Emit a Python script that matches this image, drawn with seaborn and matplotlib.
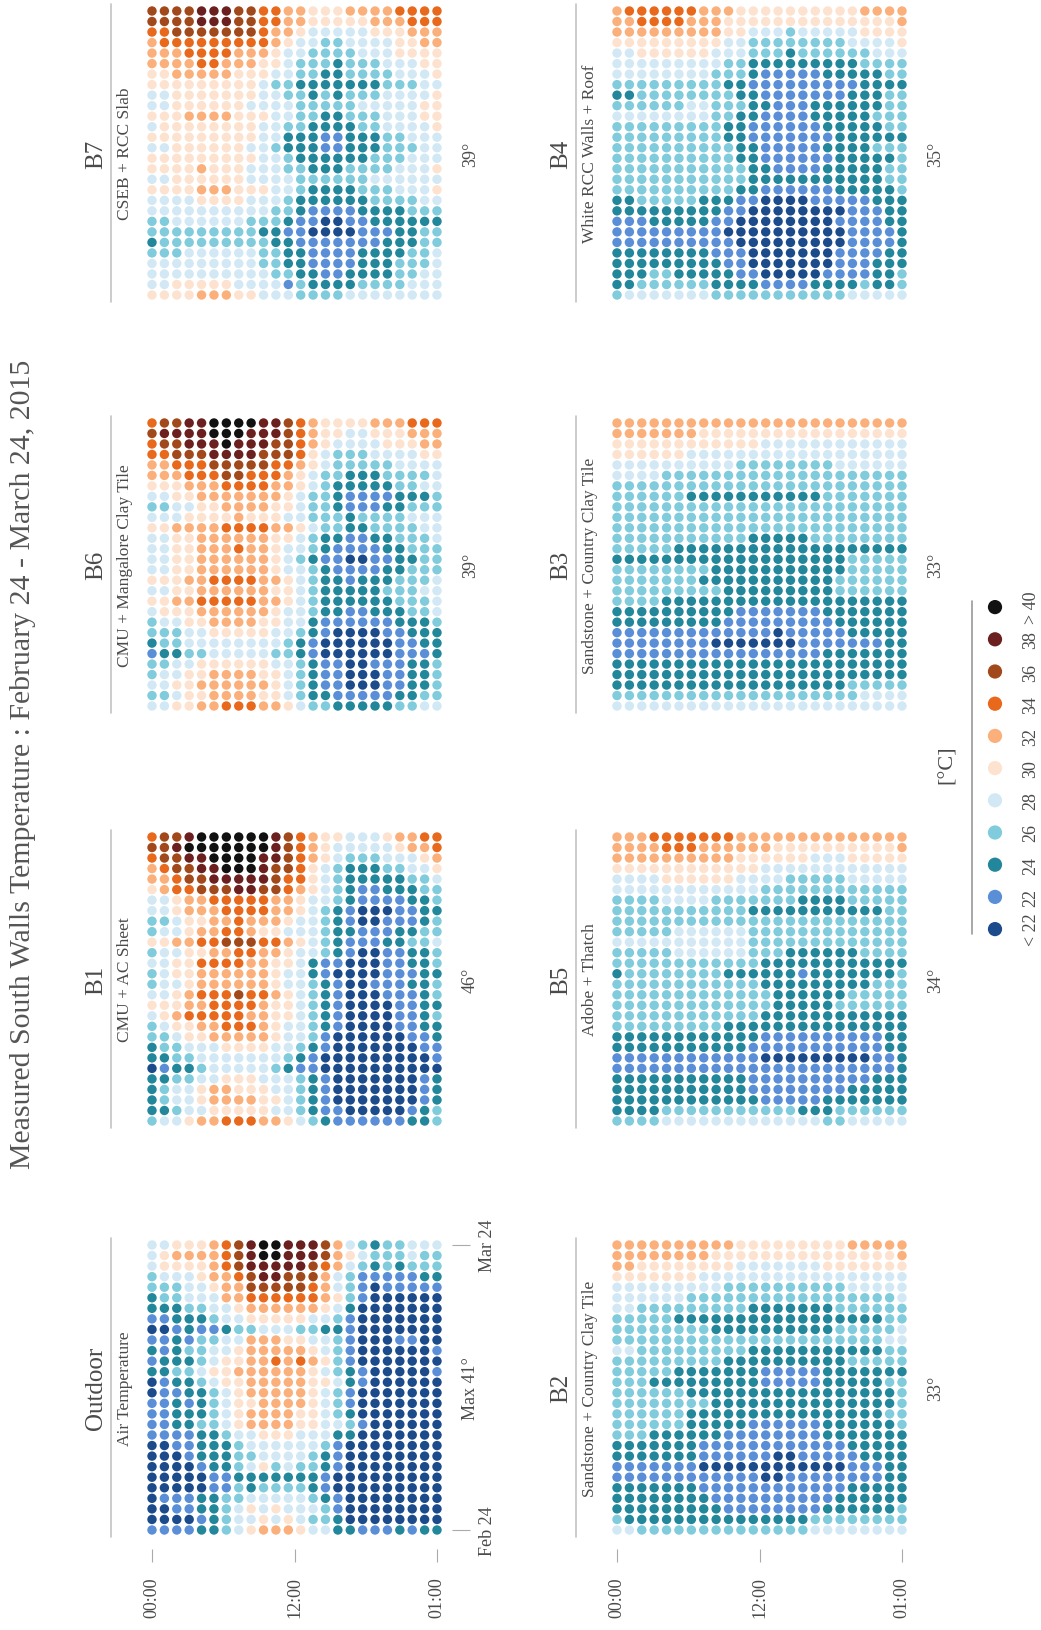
import pandas as pd
import matplotlib
matplotlib.use('Agg')
import matplotlib.pyplot as plt
from matplotlib.lines import Line2D
import seaborn as sns

# --- Figure size (pixels at 100 dpi) ---
W, H = 1041, 1631
DPI = 100

# --- Data ---
TITLE = 'Measured South Walls Temperature : February 24 - March 24, 2015'
HOUR_TICKS = [0, 11.5, 23]
HOUR_LABELS = ['00:00', '12:00', '01:00']
DAY_TICKS = [0, 27]
DAY_LABELS = ['Feb 24', 'Mar 24']

# one character per hour, code -> temperature class
CAT_CODES = ['0', '1', '2', '3', '4', '5', '6', '7', '8', '9', 'x']
CAT_LABELS = ['< 22', '22', '24', '26', '28', '30', '32', '34', '36', '38', '> 40']
CAT_COLORS = ['#1c4b8c', '#5a8fd8', '#22879a', '#80cbdc', '#d2e9f5', '#fde3cf',
              '#fbb07c', '#e8681c', '#a2491c', '#6b1f1f', '#111111']

# rows run from Mar 24 (first) down to Feb 24 (last), 24 hours per row
outdoor = [
    "445556 789xx9 998643 233444", "456666 789xx9 998654 333433",
    "455556 789999 987643 232333", "344456 678998 886431 111122",
    "333445 668888 876431 011111", "233444 667777 776531 000000",
    "222334 456666 665420 000000", "112223 445555 544310 000000",
    "001211 233444 332210 000000", "112133 446665 544310 001100",
    "212334 456666 654310 000001", "122234 556676 765310 000000",
    "223345 566666 654321 000001", "012234 556666 655421 000000",
    "011223 456666 654310 000000", "112123 455666 654310 000000",
    "112223 456666 554320 000000", "112233 456666 554431 000000",
    "111122 344555 444220 000000", "001122 234444 443100 000000",
    "000122 233444 432100 000000", "000012 234534 332100 000000",
    "000001 122222 221000 000000", "000001 132333 321000 000000",
    "011122 334444 432100 000000", "001122 345454 443100 000000",
    "000012 344545 433200 000000", "111122 345666 544221 112122",
]
b1 = [
    "7889xx xxxx98 765544 456677", "889xxx xxxx98 765444 445667",
    "78899x xxx998 765433 344456", "678899 xxx988 754322 233445",
    "667889 999987 754322 222334", "567788 899887 654321 122233",
    "445667 777766 544321 111223", "445666 777766 543210 001122",
    "334556 676665 443210 011123", "344566 776554 443221 112233",
    "556677 888776 543211 122334", "344556 677665 443210 011223",
    "445577 776655 421100 011223", "345566 666654 421000 011122",
    "344566 666654 432100 111223", "445677 787765 432100 011123",
    "555667 777655 432100 001122", "456777 776655 432100 001123",
    "345566 777654 432100 001122", "334556 666654 431000 000112",
    "233444 555544 321000 000011", "223344 444443 210000 000001",
    "012234 444432 110000 000000", "223344 555444 321000 000012",
    "234456 655544 321000 000012", "234456 666554 321000 000012",
    "223445 555544 321100 000123", "344566 777665 432111 111223",
]
b6 = [
    "78899x xxx998 765555 666777", "89999x xx9998 765544 555666",
    "788999 x99988 765444 455566", "778889 999888 754333 444455",
    "667778 888877 654333 334444", "666777 887776 543322 233334",
    "555666 777766 543222 223344", "445566 666665 433211 112223",
    "334455 666655 433211 122333", "444555 565554 433323 333444",
    "556666 777766 543322 333344", "445566 666655 432211 223334",
    "445566 676654 432111 122333", "445566 666654 321100 112233",
    "445566 666654 432111 122333", "555667 777665 432212 223334",
    "445566 666655 432222 233344", "556677 777665 432222 223334",
    "455566 666654 432211 222334", "344556 666554 421111 112223",
    "333445 555544 321000 011222", "233444 444443 210000 001122",
    "122334 444433 210000 001112", "334455 555544 321100 111223",
    "344556 666554 321100 011223", "445566 666654 321100 011223",
    "334556 666554 322111 112233", "445566 777665 433222 223344",
]
b7 = [
    "888899 988776 655566 667777", "888899 988776 655555 666777",
    "778888 888766 544444 555666", "677777 777765 443344 445566",
    "666777 766654 433334 445555", "666677 666554 333233 344455",
    "556666 655544 332233 334445", "555555 555433 222222 233344",
    "445555 555443 323233 344445", "445555 554444 333334 444455",
    "555666 655544 332233 344455", "455555 555443 322223 344445",
    "555555 555442 221122 233444", "445555 554432 221122 233344",
    "555555 555443 222222 333444", "555565 554443 322233 334445",
    "445555 554444 333333 444444", "555566 655544 322223 334445",
    "444455 554443 222222 333344", "444444 444433 211112 222333",
    "334444 443332 110011 222222", "333333 333221 100001 112233",
    "233333 333322 111111 122233", "333444 444332 211112 222334",
    "444444 444332 211112 223334", "444444 444433 221122 223344",
    "445555 544441 322223 333444", "555566 655444 333344 444444",
]
b2 = [
    "666666 666655 555555 566666", "666666 665555 555555 555556",
    "665555 555544 444445 555555", "555555 544444 444444 444444",
    "444444 444333 333333 344444", "444444 333333 333333 333334",
    "443333 333332 222222 333333", "333332 222222 222222 222233",
    "333333 332222 222222 333334", "333333 333333 333333 333344",
    "443333 333332 222222 222233", "333333 333222 222222 233333",
    "333332 222222 111112 222222", "333222 222222 111112 222233",
    "333333 222222 222222 222223", "333333 332222 222222 222223",
    "333333 222222 222222 222233", "333333 222221 111112 222223",
    "333222 222111 111112 222222", "222222 211111 111111 122222",
    "222222 211111 100111 112222", "111111 100000 000000 011122",
    "111111 111111 001111 111122", "222222 211111 111111 122222",
    "222222 221111 111111 222222", "222222 222111 111112 222223",
    "322222 222222 222233 333333", "443333 333333 333344 444444",
]
b5 = [
    "666777 777766 666666 666666", "666677 766666 655555 555556",
    "666666 666655 555544 455555", "555555 555555 444444 444444",
    "444455 555544 443333 344444", "444444 444444 333333 333333",
    "333344 443333 333222 233333", "333333 333332 222222 222233",
    "333333 333333 333333 333333", "333334 444443 333333 333333",
    "444444 444443 333333 333333", "333334 444443 332222 223333",
    "333333 333333 222222 222222", "233333 333222 222122 222223",
    "333333 333333 222222 222333", "333333 333333 322222 233333",
    "333333 333333 322222 333333", "333333 333333 222222 222222",
    "333333 333222 222222 222222", "222222 222222 111111 111122",
    "222222 222221 111111 111122", "111111 111111 000000 000112",
    "111111 111111 111111 111112", "222222 222221 111111 111222",
    "222222 222221 111111 122222", "222222 222222 111112 222222",
    "222233 333333 333222 333333", "333344 444444 444443 344444",
]
b3 = [
    "666666 666666 666666 666666", "666666 655555 555555 555555",
    "555555 555555 444444 444444", "555555 444444 444444 444444",
    "444444 444433 333333 444444", "444433 333333 333333 333333",
    "333333 333333 333333 333333", "333333 222222 222223 333333",
    "333333 333333 333333 333333", "333333 333333 333333 333333",
    "333333 333333 333333 333333", "333333 333332 222233 333333",
    "333332 222222 222222 222222", "222222 222222 222222 233333",
    "333333 332222 222222 233333", "333333 322222 222222 333333",
    "333333 333222 222222 333333", "333322 222222 222222 222222",
    "222222 222211 111112 222222", "222222 222111 111111 222222",
    "111111 111111 101111 122222", "111111 110000 000111 111122",
    "111111 111111 111112 222222", "222222 222222 222222 222222",
    "222222 222222 222222 222222", "222222 222222 222222 233333",
    "333333 333333 333333 334444", "444444 444444 444444 444444",
]
b4 = [
    "677777 766655 555555 556666", "667777 666555 555555 555556",
    "666666 666554 443444 445555", "555555 555443 333333 344445",
    "445555 554443 332333 333444", "444444 444332 222222 223333",
    "444444 443332 111112 222233", "333333 333221 111111 112222",
    "223333 333322 111111 122233", "333333 443332 211122 222233",
    "444444 443322 111122 222333", "333333 333221 111112 222233",
    "333333 333221 111111 222222", "333333 333322 111112 222333",
    "333333 333322 111111 222223", "333333 333332 211112 222233",
    "333333 333332 222222 222233", "333333 333322 111111 222223",
    "223333 322211 000011 111222", "222222 222110 000000 011122",
    "111222 221100 000000 111122", "111111 111000 000000 011112",
    "111111 111100 000000 011112", "222222 221110 000000 111122",
    "222222 222110 000000 111222", "222332 222211 000001 111223",
    "223333 332222 111122 223223", "344444 443333 333333 344444",
]

PANEL_NAMES = ['B7', 'B6', 'B1', 'Outdoor', 'B4', 'B3', 'B5', 'B2']
PANEL_SUBS = ['CSEB + RCC Slab', 'CMU + Mangalore Clay Tile', 'CMU + AC Sheet',
              'Air Temperature', 'White RCC Walls + Roof',
              'Sandstone + Country Clay Tile', 'Adobe + Thatch',
              'Sandstone + Country Clay Tile']
PANEL_MAX = ['39°', '39°', '46°', 'Max 41°', '35°', '33°', '34°', '33°']
PANEL_DATA = [b7, b6, b1, outdoor, b4, b3, b5, b2]

# --- Layout (pixel positions of first / last dot centres) ---
COL_X = [(152, 437), (617, 902)]
ROW_Y = [(12, 296), (424, 707), (838, 1122), (1246, 1531)]
TEXT_GRAY = '#4a4a4a'
LINE_GRAY = '#c4c4c4'


def to_frame(rows):
    recs = []
    n = len(rows)
    for i, r in enumerate(rows):
        r = r.replace(' ', '')
        for h, c in enumerate(r):
            recs.append({'hour': h, 'day': n - 1 - i,
                         'temp': CAT_LABELS[CAT_CODES.index(c)]})
    return pd.DataFrame(recs)


def rect(xr, yr):
    dx = (xr[1] - xr[0]) / 23
    dy = (yr[1] - yr[0]) / 27
    left = xr[0] - dx / 2
    top = yr[0] - dy / 2
    return left, top, 24 * dx, 28 * dy


def main():
    sns.set_theme(style='white')
    plt.rcParams['font.family'] = ['Liberation Serif', 'DejaVu Serif']

    fig = plt.figure(figsize=(W / DPI, H / DPI), dpi=DPI)
    palette = dict(zip(CAT_LABELS, CAT_COLORS))

    for k, rows in enumerate(PANEL_DATA):
        col, row = divmod(k, 4)
        left, top, w, h = rect(COL_X[col], ROW_Y[row])
        ax = fig.add_axes([left / W, 1 - (top + h) / H, w / W, h / H])
        sns.scatterplot(data=to_frame(rows), x='hour', y='day', hue='temp',
                        hue_order=CAT_LABELS, palette=palette, s=46,
                        linewidth=0, legend=False, ax=ax)
        ax.set_xlim(-0.5, 23.5)
        ax.set_ylim(-0.5, 27.5)
        ax.set_xlabel('')
        ax.set_ylabel('')
        for sp in ax.spines.values():
            sp.set_visible(False)
        ax.set_yticks([])
        if row == 3:
            ax.spines['bottom'].set_position(('outward', 10))
            ax.set_xticks(HOUR_TICKS)
            ax.set_xticklabels(HOUR_LABELS, rotation=90, fontsize=13,
                               color=TEXT_GRAY)
            ax.tick_params(axis='x', length=9.5, width=0.8, color='#aaaaaa',
                           pad=10, bottom=True)
        else:
            ax.set_xticks([])
        if k == 3:
            ax.yaxis.tick_right()
            ax.spines['right'].set_position(('outward', 6.5))
            ax.set_yticks(DAY_TICKS)
            ax.set_yticklabels(DAY_LABELS, rotation=90, fontsize=13,
                               color=TEXT_GRAY, va='center')
            ax.tick_params(axis='y', length=13, width=0.8, color='#aaaaaa',
                           pad=6, right=True)

        # panel heading, divider line and max value
        yc = 1 - (top + h / 2) / H
        fig.text((left - 50) / W, yc, PANEL_NAMES[k], rotation=90,
                 ha='center', va='center', fontsize=18, color=TEXT_GRAY)
        fig.text((left - 21) / W, yc, PANEL_SUBS[k], rotation=90,
                 ha='center', va='center', fontsize=12.5, color=TEXT_GRAY)
        fig.add_artist(Line2D([(left - 35) / W] * 2,
                              [1 - (top - 2) / H, 1 - (top + h + 2) / H],
                              transform=fig.transFigure, color=LINE_GRAY,
                              lw=1.2))
        fig.text((left + w + 27) / W, yc, PANEL_MAX[k], rotation=90,
                 ha='center', va='center', fontsize=13, color=TEXT_GRAY)

    # --- Colour legend ---
    leg_top, step = 592, 32.2
    lax = fig.add_axes([980 / W, 1 - (leg_top + 11 * step) / H, 30 / W,
                        11 * step / H])
    leg_df = pd.DataFrame({'x': [0] * len(CAT_LABELS),
                           'y': list(range(len(CAT_LABELS))),
                           'temp': CAT_LABELS})
    sns.scatterplot(data=leg_df, x='x', y='y', hue='temp',
                    hue_order=CAT_LABELS, palette=palette, s=105,
                    linewidth=0, legend=False, ax=lax)
    lax.set_xlim(-1, 1)
    lax.set_ylim(-0.5, len(CAT_LABELS) - 0.5)
    for sp in lax.spines.values():
        sp.set_visible(False)
    lax.set_xticks([])
    lax.set_xlabel('')
    lax.set_ylabel('')
    lax.yaxis.tick_right()
    lax.set_yticks(range(len(CAT_LABELS)))
    lax.set_yticklabels(CAT_LABELS, rotation=90, fontsize=13,
                        color=TEXT_GRAY, va='center')
    lax.tick_params(axis='y', length=0, pad=9)
    fig.add_artist(Line2D([972 / W] * 2, [1 - 602 / H, 1 - 935 / H],
                          transform=fig.transFigure, color='#999999', lw=1.2))
    fig.text(947 / W, 1 - 765 / H, '[°C]', rotation=90, ha='center',
             va='center', fontsize=16, color=TEXT_GRAY)

    fig.text(23 / W, 1 - 764 / H, TITLE, rotation=90, ha='center',
             va='center', fontsize=21.5, color='#555555')

    fig.savefig('out.png', dpi=DPI)
    plt.close(fig)


if __name__ == '__main__':
    main()
